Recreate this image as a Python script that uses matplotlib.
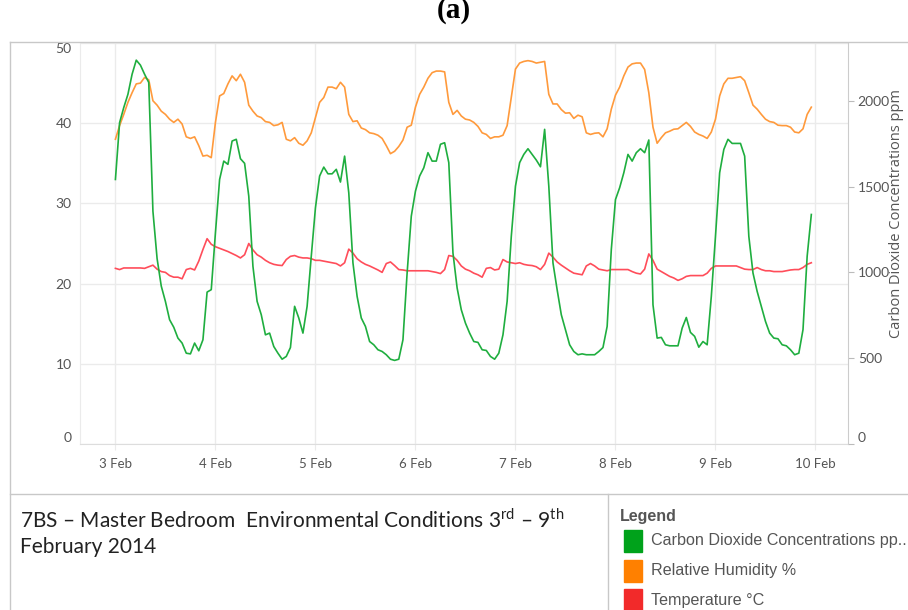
import numpy as np
import matplotlib
matplotlib.use('Agg')
import matplotlib.pyplot as plt
from matplotlib.lines import Line2D
from matplotlib.patches import Rectangle

# hourly readings, 3 Feb 00:00 -> 9 Feb 23:00
co2_ppm = [
    1541, 1872, 1960, 2037, 2154, 2236, 2207, 2154, 2106, 1356, 1080, 920,
    830, 724, 680, 617, 588, 529, 525, 588, 543, 607, 885, 899,
    1230, 1541, 1648, 1629, 1765, 1775, 1662, 1635, 1444, 1035, 831, 753,
    636, 646, 568, 529, 494, 510, 562, 802, 734, 646, 802, 1094,
    1376, 1561, 1613, 1574, 1574, 1600, 1526, 1677, 1463, 1055, 860, 734,
    685, 597, 578, 549, 539, 520, 494, 487, 494, 607, 996, 1327,
    1473, 1561, 1609, 1697, 1648, 1648, 1746, 1755, 1639, 1113, 909, 782,
    704, 646, 597, 592, 549, 545, 510, 494, 529, 636, 831, 1210,
    1502, 1639, 1687, 1720, 1687, 1654, 1615, 1833, 1502, 1055, 899, 753,
    666, 578, 539, 520, 525, 520, 520, 520, 539, 562, 685, 1133,
    1424, 1493, 1580, 1687, 1648, 1697, 1720, 1697, 1771, 811, 617, 621,
    578, 572, 572, 572, 675, 737, 650, 627, 564, 597, 578, 860,
    1210, 1580, 1716, 1775, 1751, 1751, 1751, 1677, 1210, 996, 889, 802,
    714, 646, 617, 613, 578, 572, 549, 520, 529, 666, 1094, 1337,
]
rh_pct = [
    38.0, 39.7, 41.1, 42.6, 43.8, 44.9, 45.0, 45.7, 45.4, 42.8, 42.25, 41.5,
    41.1, 40.5, 40.1, 40.5, 39.9, 38.3, 38.1, 38.3, 37.2, 35.9, 36.0, 35.7,
    40.1, 43.4, 43.7, 44.9, 45.9, 45.3, 46.1, 45.1, 42.25, 41.5, 40.9, 40.7,
    40.2, 40.1, 39.7, 39.8, 40.1, 38.0, 37.8, 38.2, 37.5, 37.25, 37.8, 38.8,
    40.7, 42.6, 43.2, 44.5, 44.5, 44.3, 45.1, 44.5, 41.1, 40.2, 40.3, 39.4,
    39.2, 38.8, 38.7, 38.5, 38.1, 37.2, 36.2, 36.5, 37.1, 37.9, 39.5, 39.75,
    42.0, 43.6, 44.5, 45.6, 46.3, 46.5, 46.5, 46.4, 42.6, 41.1, 41.6, 40.9,
    40.5, 40.4, 40.1, 39.6, 38.8, 38.6, 38.1, 38.3, 38.3, 38.5, 39.7, 43.2,
    46.75, 47.5, 47.7, 47.8, 47.7, 47.5, 47.6, 47.7, 43.6, 42.4, 42.4, 41.7,
    41.25, 41.3, 40.6, 41.0, 40.8, 38.8, 38.6, 38.75, 38.8, 38.3, 39.3, 41.75,
    43.5, 44.5, 45.9, 47.0, 47.4, 47.5, 47.5, 46.7, 43.8, 39.5, 37.5, 38.2,
    38.8, 39.0, 39.25, 39.3, 39.7, 40.1, 39.6, 38.9, 38.6, 38.4, 38.1, 38.9,
    40.5, 43.4, 44.9, 45.6, 45.6, 45.7, 45.8, 45.3, 43.8, 42.25, 41.75, 41.1,
    40.5, 40.2, 40.1, 39.75, 39.7, 39.7, 39.5, 38.9, 38.8, 39.3, 41.1, 42.0,
]
temp_c = [
    21.9, 21.75, 21.95, 21.95, 21.95, 21.95, 21.95, 21.9, 22.1, 22.3, 21.8, 21.5,
    21.4, 21.0, 20.8, 20.8, 20.6, 21.75, 21.9, 21.7, 22.8, 24.25, 25.6, 24.9,
    24.6, 24.4, 24.2, 24.0, 23.75, 23.5, 23.2, 23.6, 25.0, 24.2, 23.6, 23.3,
    22.9, 22.6, 22.4, 22.3, 22.25, 23.0, 23.4, 23.5, 23.3, 23.2, 23.2, 23.1,
    22.9, 22.9, 22.8, 22.7, 22.6, 22.5, 22.2, 22.6, 24.3, 23.8, 23.1, 22.7,
    22.4, 22.2, 21.95, 21.7, 21.4, 22.5, 22.7, 22.25, 21.75, 21.7, 21.6, 21.6,
    21.6, 21.6, 21.6, 21.6, 21.5, 21.4, 21.25, 21.75, 23.5, 23.4, 22.9, 22.2,
    21.8, 21.6, 21.3, 21.1, 20.8, 21.9, 22.0, 21.7, 21.8, 23.0, 22.7, 22.6,
    22.5, 22.6, 22.4, 22.3, 22.25, 22.1, 21.75, 22.4, 23.8, 23.3, 22.7, 22.3,
    21.95, 21.6, 21.3, 21.2, 21.1, 22.2, 22.5, 22.2, 21.8, 21.7, 21.6, 21.75,
    21.75, 21.75, 21.75, 21.75, 21.5, 21.3, 21.2, 21.8, 23.7, 22.9, 21.8, 21.5,
    21.2, 20.9, 20.7, 20.4, 20.6, 20.9, 21.0, 21.0, 21.0, 21.0, 21.3, 21.9,
    22.2, 22.2, 22.2, 22.2, 22.2, 22.2, 22.0, 21.8, 21.75, 21.75, 22.0, 21.75,
    21.6, 21.6, 21.5, 21.5, 21.5, 21.6, 21.7, 21.75, 21.75, 22.0, 22.4, 22.6,
]
day_labels = ['3 Feb', '4 Feb', '5 Feb', '6 Feb', '7 Feb', '8 Feb', '9 Feb', '10 Feb']
left_ticks = [0, 10, 20, 30, 40, 50]
right_ticks = [0, 500, 1000, 1500, 2000]
legend_names = ['Carbon Dioxide Concentrations pp..', 'Relative Humidity %', 'Temperature \u00b0C']

W, H = 908, 610
plt.rcParams['mathtext.fontset'] = 'custom'
plt.rcParams['mathtext.rm'] = 'Lato'

def fx(x):
    return x / W

def fy(y):
    return 1 - y / H

fig = plt.figure(figsize=(W / 100, H / 100), dpi=100)
ax = fig.add_axes([fx(80), fy(444), fx(848) - fx(80), fy(43) - fy(444)])
ax2 = ax.twinx()

hours = np.arange(len(co2_ppm))
ax.plot(hours, rh_pct, color='#ff9a3c', lw=1.2)
ax.plot(hours, temp_c, color='#ff4d5a', lw=1.2)
ax2.plot(hours, co2_ppm, color='#1fae3f', lw=1.2)

ax.set_xlim(-8.5, 175.8)
ax.set_ylim(0, 50)
ax2.set_ylim(0, 2336)

# axis styling
grid_c = '#ebebeb'
ax.set_xticks(np.arange(len(day_labels)) * 24)
ax.set_xticklabels(day_labels)
ax.set_yticks(left_ticks)
ax2.set_yticks(right_ticks)
ax.grid(True, color=grid_c, lw=1.0)
ax.set_axisbelow(True)
for a in (ax, ax2):
    for s in a.spines.values():
        s.set_visible(False)
ax.spines['left'].set_visible(True)
ax.spines['left'].set_color(grid_c)
ax.spines['bottom'].set_visible(True)
ax.spines['bottom'].set_color('#dddddd')
ax2.spines['right'].set_visible(True)
ax2.spines['right'].set_color('#cccccc')

ax.tick_params(axis='y', length=0, pad=6, labelsize=10, labelcolor='#555555')
ax.tick_params(axis='x', length=4, color=grid_c, pad=6, labelsize=9.5, labelcolor='#555555')
ax2.tick_params(axis='y', length=4, color='#bbbbbb', pad=3, labelsize=10, labelcolor='#555555')
for lab in ax.get_xticklabels() + ax.get_yticklabels() + ax2.get_yticklabels():
    lab.set_family('Lato')
# keep end labels inside the plot like the original
ax.get_yticklabels()[0].set_va('bottom')
ax.get_yticklabels()[-1].set_va('top')
ax2.get_yticklabels()[0].set_va('bottom')

# right axis title
fig.text(fx(897), fy(213), 'Carbon Dioxide Concentrations ppm', family='Open Sans',
         fontsize=10.5, color='#555555', rotation=90, ha='center', va='center')

# sheet frame lines
frame_c = '#c8c8c8'
fig.add_artist(Line2D([fx(10), 1], [fy(42), fy(42)], color=frame_c, lw=1))
fig.add_artist(Line2D([fx(10), fx(10)], [fy(42), 0], color=frame_c, lw=1))
fig.add_artist(Line2D([fx(10), 1], [fy(494), fy(494)], color=frame_c, lw=1))
fig.add_artist(Line2D([fx(608), fx(608)], [fy(494), 0], color=frame_c, lw=1))

fig.text(fx(454), fy(24), '(a)', ha='center', va='bottom', family='Liberation Serif',
         fontweight='bold', fontsize=21)

# caption block
fig.text(fx(20), fy(520), '7BS \u2013 Master Bedroom  Environmental Conditions 3$^{\\rm rd}$ \u2013 9$^{\\rm th}$',
         family='Lato', fontsize=15, color='#222222', va='center')
fig.text(fx(20), fy(547), 'February 2014', family='Lato', fontsize=15,
         color='#222222', va='center')

# legend block
fig.text(fx(620), fy(517), 'Legend', family='Liberation Sans', fontweight='bold',
         fontsize=11.5, color='#555555', va='center')
legend_colors = ['#00a21b', '#ff8000', '#f22a2a']
for i, name in enumerate(legend_names):
    yc = 541 + i * 29.5
    fig.add_artist(Rectangle((fx(624), fy(yc + 11)), fx(18), fy(yc - 11) - fy(yc + 11),
                             color=legend_colors[i], transform=fig.transFigure))
    fig.text(fx(651), fy(yc), name, family='Liberation Sans', fontsize=11.6,
             color='#555555', va='center')

fig.savefig('out.png', dpi=100)
